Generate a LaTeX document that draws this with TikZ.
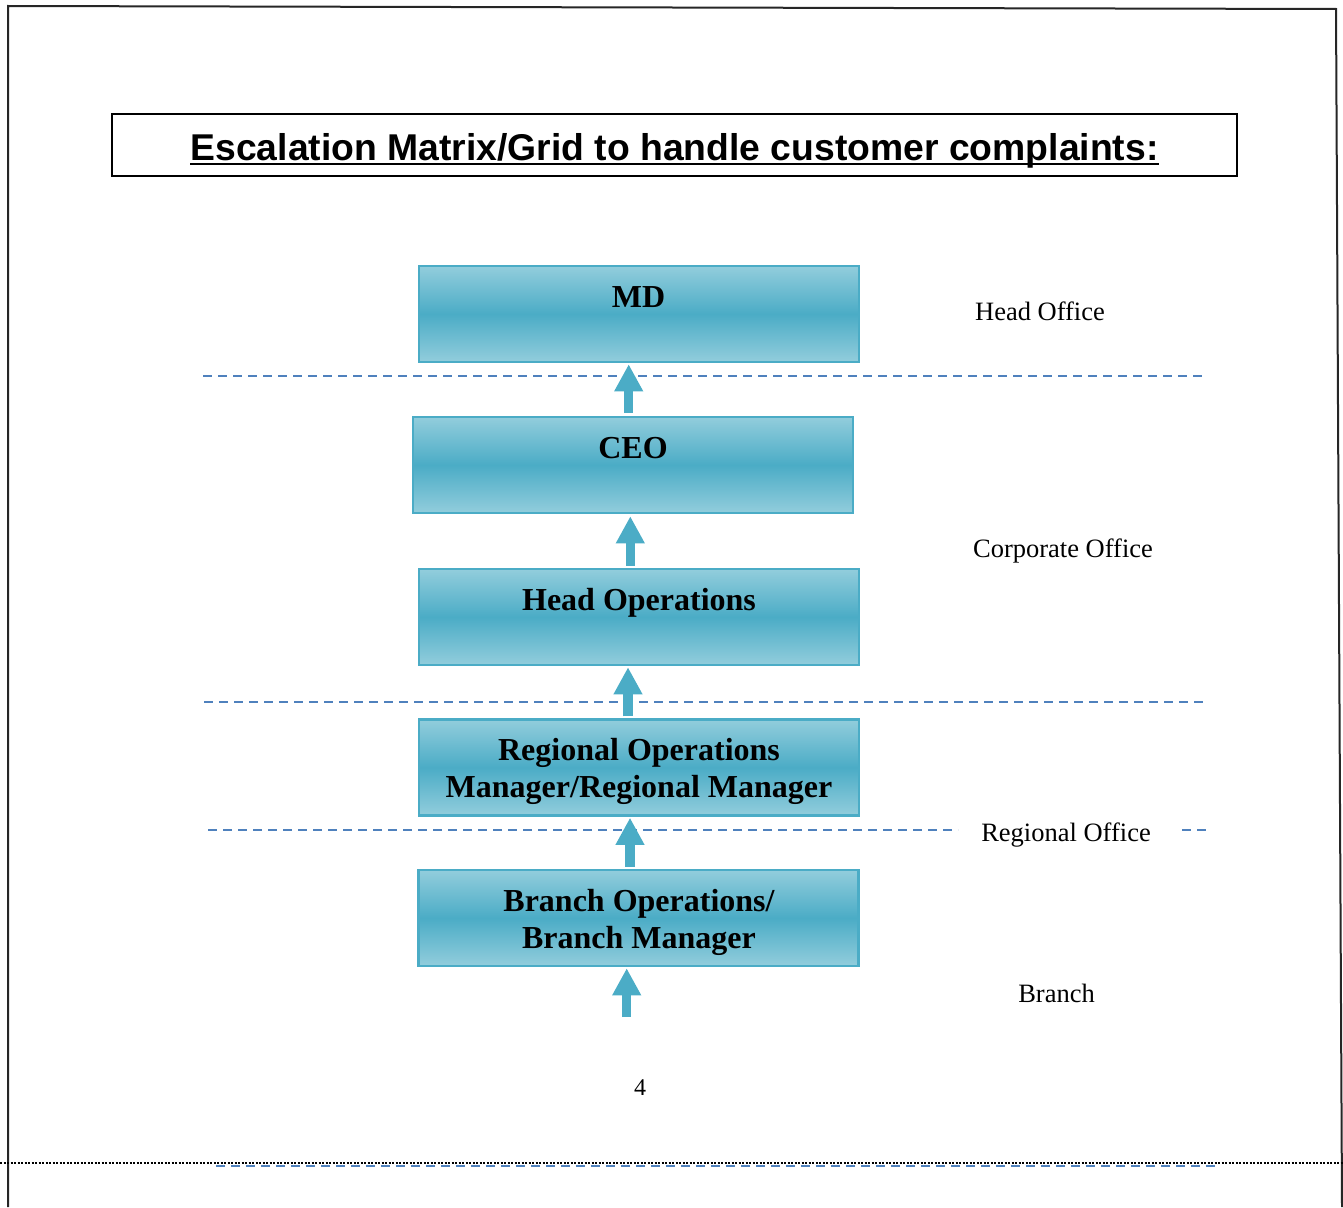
\documentclass[tikz,border=0pt]{standalone}
\usepackage{fontspec}
\setmainfont{Liberation Serif}
\newfontfamily\titlefont{Liberation Sans}
\usetikzlibrary{arrows.meta}
\definecolor{boxlight}{HTML}{92CDDC}
\definecolor{boxdark}{HTML}{4BACC6}
\definecolor{boxedge}{HTML}{4BACC6}
\definecolor{dashblue}{HTML}{4F81BD}
\definecolor{arrowblue}{HTML}{4BACC6}
\begin{document}
\begin{tikzpicture}[x=1pt,y=-1pt,
  box/.style={rectangle, draw=boxedge, line width=2.5pt, minimum width=440pt,
    minimum height=96pt, inner sep=0pt, top color=boxlight, bottom color=boxlight,
    middle color=boxdark},
  boxtext/.style={inner sep=0pt, align=center, font=\fontsize{32}{37}\selectfont\bfseries},
  onetext/.style={boxtext, text height=22pt, text depth=7pt},
  sidelabel/.style={inner sep=0pt, anchor=base, font=\fontsize{26.5}{30}\selectfont},
  level/.style={draw=dashblue, line width=2pt, dash pattern=on 9pt off 6pt},
  uparr/.style={draw=arrowblue, line width=9.5pt, -{Triangle[width=27pt,length=27pt]}},
  frame/.style={draw=black!85, line width=2pt}
]
\useasboundingbox (0,0) rectangle (1343,1207);

% page frame
\draw[frame] (8,1207) -- (8,6) -- (1336,9) -- (1342,1207);
\draw[black, line width=1.2pt, dash pattern=on 2pt off 1.5pt] (0,1163) -- (1343,1163);
\draw[level] (216,1166) -- (1216,1166);

% title
\draw[line width=2pt] (112,114) rectangle (1237,176);
\node[inner sep=0pt, anchor=base, font=\titlefont\fontsize{37.3}{42}\selectfont\bfseries]
  (title) at (674.5,160) {Escalation Matrix/Grid to handle customer complaints:};
\draw[line width=2.7pt] ([yshift=-4pt]title.base west) -- ([yshift=-4pt]title.base east);

% level separators
\draw[level] (203,376) -- (1203,376);
\draw[level] (204,702) -- (1204,702);
\draw[level] (208,830) -- (958,830);
\draw[level] (1182,830) -- (1210,830);

% boxes
\node[box] (md) at (639,314) {};
\node[onetext] (mdt) at (638.5,299.5) {MD};
\node[box] (ceo) at (633,465) {};
\node[onetext] (ceot) at (633,450.5) {CEO};
\node[box] (hop) at (639,617) {};
\node[onetext] (hopt) at (639,602.5) {Head Operations};
\node[box] (rom) at (639,767.5) {};
\node[boxtext] (romt) at (639,771) {Regional Operations\\Manager/Regional Manager};
\node[box] (bom) at (638.5,918) {};
\node[boxtext] (bomt) at (639,922) {Branch Operations/\\Branch Manager};

% arrows
\coordinate (start) at (626.7,1017);
\draw[uparr] ([yshift=3pt]ceo.north -| 628.7,0) -- ([yshift=-1pt]md.south -| 628.7,0);
\draw[uparr] ([yshift=2pt]hop.north -| 630.3,0) -- ([yshift=-2pt]ceo.south -| 630.3,0);
\draw[uparr] ([yshift=2pt]rom.north -| 628,0) -- ([yshift=-1pt]hop.south -| 628,0);
\draw[uparr] ([yshift=2pt]bom.north -| 630,0) -- ([yshift=-1pt]rom.south -| 630,0);
\draw[uparr] (start) -- ([yshift=-1pt]bom.south -| 626.7,0);

% side labels
\node[sidelabel] (ho) at (1040,320) {Head Office};
\node[sidelabel] (co) at (1063,557) {Corporate Office};
\node[sidelabel] (ro) at (1066,841) {Regional Office};
\node[sidelabel] (br) at (1056.5,1002) {Branch};
\node[inner sep=0pt, anchor=base, font=\fontsize{24}{28}\selectfont] (pg) at (640,1095) {4};
\end{tikzpicture}
\end{document}
